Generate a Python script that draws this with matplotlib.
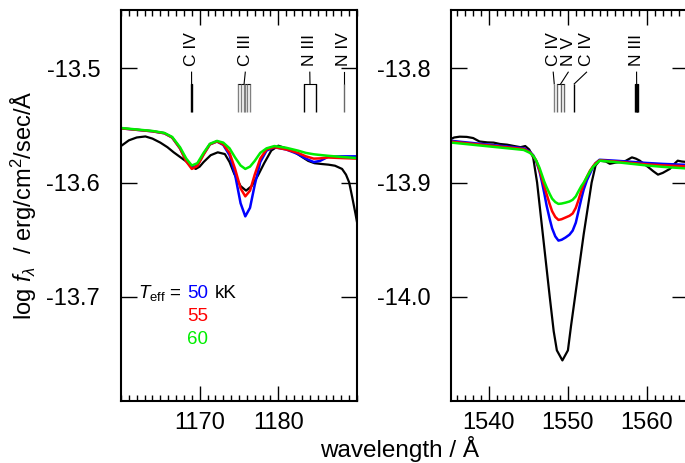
import matplotlib
matplotlib.use('Agg')
import matplotlib.pyplot as plt
from matplotlib.ticker import MultipleLocator
import numpy as np

plt.rcParams['font.family'] = ['Liberation Sans', 'DejaVu Sans']
plt.rcParams['mathtext.fontset'] = 'custom'
plt.rcParams['mathtext.rm'] = 'Liberation Sans'
plt.rcParams['mathtext.it'] = 'Liberation Sans:italic'
plt.rcParams['mathtext.sf'] = 'Liberation Sans'

# ---- left window: C IV / C III / N III / N IV around 1175 A ----
wl_left_model = [1160.0, 1162.0, 1164.0, 1165.5, 1166.5, 1167.5, 1168.3, 1169.0, 1169.7, 1170.5,
                 1171.3, 1172.2, 1173.0, 1173.8, 1174.5, 1175.2, 1175.8, 1176.4, 1177.0, 1177.7,
                 1178.5, 1179.5, 1181.0, 1182.5, 1183.5, 1184.5, 1185.3, 1186.3, 1188.0, 1190.0]
left_50 = [-13.5525, -13.5538, -13.5551, -13.5568, -13.5605, -13.5700, -13.5810, -13.5870, -13.5850, -13.5750,
           -13.5665, -13.5640, -13.5670, -13.5760, -13.5930, -13.6180, -13.6295, -13.6220, -13.6020, -13.5820,
           -13.5720, -13.5690, -13.5710, -13.5750, -13.5790, -13.5820, -13.5810, -13.5775, -13.5770, -13.5770]
left_55 = [-13.5525, -13.5538, -13.5551, -13.5568, -13.5605, -13.5700, -13.5815, -13.5880, -13.5855, -13.5755,
           -13.5665, -13.5640, -13.5665, -13.5740, -13.5880, -13.6050, -13.6120, -13.6070, -13.5930, -13.5790,
           -13.5710, -13.5690, -13.5710, -13.5740, -13.5770, -13.5790, -13.5788, -13.5780, -13.5785, -13.5790]
left_60 = [-13.5522, -13.5535, -13.5548, -13.5565, -13.5600, -13.5690, -13.5790, -13.5850, -13.5830, -13.5740,
           -13.5660, -13.5635, -13.5650, -13.5700, -13.5780, -13.5850, -13.5880, -13.5860, -13.5810, -13.5740,
           -13.5700, -13.5680, -13.5695, -13.5720, -13.5740, -13.5752, -13.5758, -13.5765, -13.5775, -13.5785]

wl_left_obs = [1160.0, 1161.0, 1162.0, 1163.1, 1164.0, 1165.0, 1165.9, 1166.7, 1167.5, 1168.4,
               1169.0, 1169.5, 1170.0, 1170.5, 1171.4, 1172.3, 1173.2, 1173.8, 1174.4, 1175.2,
               1175.9, 1176.6, 1177.4, 1178.2, 1179.1, 1180.0, 1181.0, 1182.1, 1183.0, 1183.8,
               1184.6, 1185.5, 1186.4, 1187.2, 1188.1, 1188.6, 1189.0, 1189.4, 1189.8, 1190.2]
left_obs = [-13.5680, -13.5630, -13.5605, -13.5596, -13.5615, -13.5650, -13.5690, -13.5735, -13.5775, -13.5820,
            -13.5860, -13.5880, -13.5860, -13.5820, -13.5760, -13.5735, -13.5750, -13.5820, -13.5924, -13.6030,
            -13.6070, -13.6030, -13.5939, -13.5830, -13.5720, -13.5677, -13.5700, -13.5735, -13.5775, -13.5810,
            -13.5830, -13.5837, -13.5843, -13.5852, -13.5880, -13.5930, -13.5997, -13.6130, -13.6270, -13.6420]

# ---- right window: C IV resonance doublet ----
wl_right_model = [1535.0, 1537.0, 1539.0, 1541.0, 1543.0, 1544.4, 1545.2, 1545.6, 1546.0, 1546.4,
                  1546.7, 1547.0, 1547.3, 1547.7, 1548.0, 1548.4, 1548.8, 1549.2, 1549.7, 1550.2,
                  1550.6, 1551.0, 1551.3, 1551.7, 1552.0, 1552.4, 1552.8, 1553.2, 1553.5, 1554.0,
                  1556.0, 1558.0, 1560.0, 1562.0, 1565.5]
right_50 = [-13.8633, -13.8647, -13.8661, -13.8675, -13.8689, -13.8699, -13.8730, -13.8760, -13.8815, -13.8900,
            -13.8990, -13.9090, -13.9200, -13.9320, -13.9400, -13.9470, -13.9507, -13.9500, -13.9480, -13.9455,
            -13.9420, -13.9350, -13.9260, -13.9140, -13.9060, -13.8980, -13.8920, -13.8860, -13.8830, -13.8800,
            -13.8808, -13.8818, -13.8828, -13.8836, -13.8846]
right_55 = [-13.8640, -13.8654, -13.8668, -13.8682, -13.8696, -13.8706, -13.8735, -13.8765, -13.8810, -13.8890,
            -13.8960, -13.9030, -13.9100, -13.9190, -13.9250, -13.9300, -13.9326, -13.9320, -13.9305, -13.9290,
            -13.9270, -13.9220, -13.9160, -13.9070, -13.9010, -13.8950, -13.8895, -13.8855, -13.8830, -13.8805,
            -13.8815, -13.8828, -13.8840, -13.8849, -13.8859]
right_60 = [-13.8648, -13.8662, -13.8676, -13.8690, -13.8704, -13.8714, -13.8740, -13.8765, -13.8808, -13.8870,
            -13.8930, -13.8990, -13.9040, -13.9100, -13.9140, -13.9170, -13.9186, -13.9183, -13.9175, -13.9165,
            -13.9150, -13.9120, -13.9080, -13.9030, -13.9000, -13.8950, -13.8900, -13.8860, -13.8840, -13.8808,
            -13.8820, -13.8835, -13.8850, -13.8862, -13.8878]

wl_right_obs = [1535.0, 1535.6, 1536.3, 1537.2, 1538.0, 1538.8, 1539.8, 1540.6, 1541.4, 1542.3,
                1543.2, 1544.0, 1544.6, 1545.1, 1545.6, 1546.1, 1546.9, 1547.7, 1548.2, 1548.6,
                1549.3, 1550.0, 1550.4, 1550.9, 1552.0, 1553.0, 1553.5, 1554.0, 1554.8, 1555.3,
                1556.0, 1556.6, 1557.3, 1558.1, 1558.6, 1559.1, 1559.7, 1560.2, 1560.8, 1561.4,
                1562.0, 1562.9, 1563.4, 1563.9, 1564.4, 1565.5]
right_obs = [-13.8625, -13.8605, -13.8598, -13.8600, -13.8610, -13.8640, -13.8648, -13.8650, -13.8662, -13.8668,
             -13.8680, -13.8690, -13.8680, -13.8710, -13.8780, -13.9000, -13.9500, -14.0000, -14.0300, -14.0467,
             -14.0555, -14.0467, -14.0250, -14.0000, -13.9450, -13.9000, -13.8850, -13.8808, -13.8815, -13.8835,
             -13.8825, -13.8820, -13.8810, -13.8779, -13.8790, -13.8808, -13.8840, -13.8866, -13.8900, -13.8930,
             -13.8915, -13.8880, -13.8840, -13.8808, -13.8815, -13.8823]

# line identifications: (label, label position, line wavelengths, colour)
ids_left = [('C IV', 1168.97, [1168.95, 1169.0], 'black'),
            ('C III', 1175.8, [1174.93, 1175.26, 1175.59, 1175.71, 1175.99, 1176.4], 'gray'),
            ('N III', 1184.0, [1183.2, 1184.85], 'black'),
            ('N IV', 1188.3, [1188.3], 'dimgray')]
ids_right = [('C IV', 1548.14, [1548.27], 'gray'),
             ('N V', 1550.04, [1548.65, 1549.1, 1549.5], 'dimgray'),
             ('C IV', 1552.36, [1550.8], 'black'),
             ('N III', 1558.69, [1558.5, 1558.6, 1558.7, 1558.8, 1558.9], 'black')]

teff_labels = ['50', '55', '60']
teff_colors = ['#0000ff', '#ff0000', '#00ee00']

fig = plt.figure(figsize=(6.85, 4.63), dpi=100)
ax1 = fig.add_axes([121/685, 62/463, 236/685, 391/463])
ax2 = fig.add_axes([451/685, 62/463, 237/685, 391/463])


def mark_ids(ax, ids):
    tr = ax.get_xaxis_transform()
    for label, xl, lines, col in ids:
        ax.text(xl, 0.857, label, rotation=90, ha='center', va='bottom',
                transform=tr, fontsize=12.5)
        xc = np.mean(lines)
        ax.plot([xl, xc], [0.841, 0.811], transform=tr, color='black', lw=0.8)
        if len(lines) > 1:
            ax.plot([min(lines), max(lines)], [0.811, 0.811], transform=tr, color='black', lw=0.8)
        ax.vlines(lines, 0.739, 0.811, transform=tr, color=col, lw=1.0)


def style(ax, xlim, ylim, xticks, yticks):
    ax.set_xlim(*xlim)
    ax.set_ylim(*ylim)
    ax.set_xticks(xticks)
    ax.set_yticks(yticks)
    ax.set_yticklabels(['%.1f' % t for t in yticks])
    ax.xaxis.set_minor_locator(MultipleLocator(1))
    ax.tick_params(axis='both', which='both', direction='in', top=True, right=True, width=1.0)
    ax.tick_params(axis='x', which='major', length=10.8, pad=8, labelsize=17)
    ax.tick_params(axis='x', which='minor', length=4.3)
    ax.tick_params(axis='y', which='major', length=11.5, pad=15, labelsize=17)
    for s in ax.spines.values():
        s.set_linewidth(1.5)


ax1.plot(wl_left_obs, left_obs, color='black', lw=1.6)
for vals, c in zip([left_50, left_55, left_60], teff_colors):
    ax1.plot(wl_left_model, vals, color=c, lw=1.8)
ax2.plot(wl_right_obs, right_obs, color='black', lw=1.6)
for vals, c in zip([right_50, right_55, right_60], teff_colors):
    ax2.plot(wl_right_model, vals, color=c, lw=1.8)

style(ax1, (1160, 1190), (-13.791, -13.449), [1170, 1180], [-13.5, -13.6, -13.7])
style(ax2, (1535.2, 1565.2), (-14.091, -13.749), [1540, 1550, 1560], [-13.8, -13.9, -14.0])
mark_ids(ax1, ids_left)
mark_ids(ax2, ids_right)

ax1.set_ylabel(r'log $f_\lambda$  / erg/cm$^2$/sec/Å', fontsize=17, labelpad=5)
fig.text(400/685, 6/463, 'wavelength / Å', ha='center', va='baseline', fontsize=17.5)

# T_eff legend
ax1.text(0.072, 0.263, r'$T_{\rm eff}$ =', transform=ax1.transAxes, fontsize=13.5, va='baseline')
for i, (lab, c) in enumerate(zip(teff_labels, teff_colors)):
    ax1.text(0.28, 0.263 - 0.058 * i, lab, color=c, transform=ax1.transAxes,
             fontsize=13.5, va='baseline')
ax1.text(0.398, 0.263, 'kK', transform=ax1.transAxes, fontsize=13.5, va='baseline')

fig.savefig('out.png', dpi=100)
